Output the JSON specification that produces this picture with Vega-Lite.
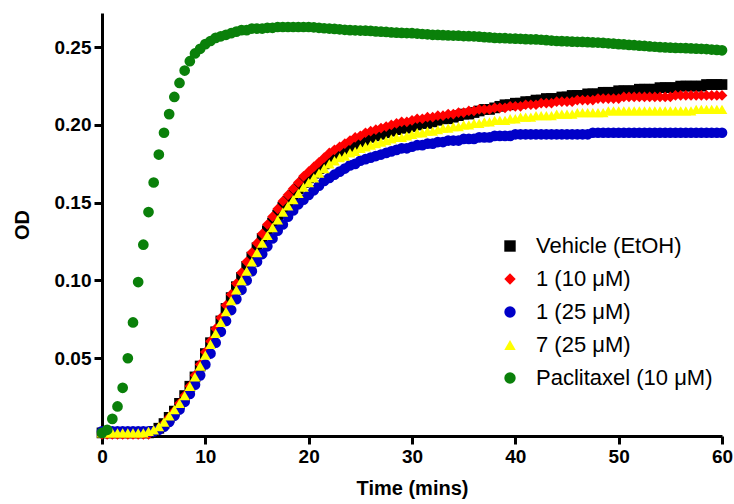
{
"$schema":"https://vega.github.io/schema/vega-lite/v6.json",
"width":620,"height":423,
"autosize":{"type":"none"},
"padding":{"left":102,"top":13,"right":12,"bottom":68},
"background":"white",
"config":{"view":{"stroke":null},
"axis":{"domainColor":"black","domainWidth":3,"tickColor":"black","tickWidth":3,"grid":false,"labelFont":"Liberation Sans","labelFontWeight":"bold","labelColor":"black","labelFontSize":19,"titleFont":"Liberation Sans","titleFontWeight":"bold","titleFontSize":20,"titleColor":"black"},
"legend":{"labelFont":"Liberation Sans","labelFontSize":22,"labelColor":"black","labelLimit":400}},
"data":{"values":[
{"t":0,"s":"V","od":0.002},{"t":0.5,"s":"V","od":0.002},{"t":1,"s":"V","od":0.002},{"t":1.5,"s":"V","od":0.002},{"t":2,"s":"V","od":0.002},{"t":2.5,"s":"V","od":0.002},{"t":3,"s":"V","od":0.002},{"t":3.5,"s":"V","od":0.002},{"t":4,"s":"V","od":0.002},{"t":4.5,"s":"V","od":0.002},
{"t":5,"s":"V","od":0.003},{"t":5.5,"s":"V","od":0.005},{"t":6,"s":"V","od":0.008},{"t":6.5,"s":"V","od":0.012},{"t":7,"s":"V","od":0.016},{"t":7.5,"s":"V","od":0.021},{"t":8,"s":"V","od":0.026},{"t":8.5,"s":"V","od":0.032},{"t":9,"s":"V","od":0.038},{"t":9.5,"s":"V","od":0.045},
{"t":10,"s":"V","od":0.053},{"t":10.5,"s":"V","od":0.060},{"t":11,"s":"V","od":0.067},{"t":11.5,"s":"V","od":0.074},{"t":12,"s":"V","od":0.082},{"t":12.5,"s":"V","od":0.089},{"t":13,"s":"V","od":0.096},{"t":13.5,"s":"V","od":0.102},{"t":14,"s":"V","od":0.109},{"t":14.5,"s":"V","od":0.115},
{"t":15,"s":"V","od":0.121},{"t":15.5,"s":"V","od":0.127},{"t":16,"s":"V","od":0.132},{"t":16.5,"s":"V","od":0.137},{"t":17,"s":"V","od":0.142},{"t":17.5,"s":"V","od":0.147},{"t":18,"s":"V","od":0.151},{"t":18.5,"s":"V","od":0.155},{"t":19,"s":"V","od":0.159},{"t":19.5,"s":"V","od":0.163},
{"t":20,"s":"V","od":0.166},{"t":20.5,"s":"V","od":0.169},{"t":21,"s":"V","od":0.172},{"t":21.5,"s":"V","od":0.175},{"t":22,"s":"V","od":0.178},{"t":22.5,"s":"V","od":0.180},{"t":23,"s":"V","od":0.182},{"t":23.5,"s":"V","od":0.184},{"t":24,"s":"V","od":0.186},{"t":24.5,"s":"V","od":0.187},
{"t":25,"s":"V","od":0.189},{"t":25.5,"s":"V","od":0.190},{"t":26,"s":"V","od":0.192},{"t":26.5,"s":"V","od":0.193},{"t":27,"s":"V","od":0.194},{"t":27.5,"s":"V","od":0.195},{"t":28,"s":"V","od":0.196},{"t":28.5,"s":"V","od":0.197},{"t":29,"s":"V","od":0.198},{"t":29.5,"s":"V","od":0.198},
{"t":30,"s":"V","od":0.199},{"t":30.5,"s":"V","od":0.200},{"t":31,"s":"V","od":0.201},{"t":31.5,"s":"V","od":0.201},{"t":32,"s":"V","od":0.202},{"t":32.5,"s":"V","od":0.203},{"t":33,"s":"V","od":0.204},{"t":33.5,"s":"V","od":0.204},{"t":34,"s":"V","od":0.205},{"t":34.5,"s":"V","od":0.206},
{"t":35,"s":"V","od":0.207},{"t":35.5,"s":"V","od":0.207},{"t":36,"s":"V","od":0.208},{"t":36.5,"s":"V","od":0.209},{"t":37,"s":"V","od":0.210},{"t":37.5,"s":"V","od":0.210},{"t":38,"s":"V","od":0.211},{"t":38.5,"s":"V","od":0.212},{"t":39,"s":"V","od":0.213},{"t":39.5,"s":"V","od":0.213},
{"t":40,"s":"V","od":0.214},{"t":40.5,"s":"V","od":0.214},{"t":41,"s":"V","od":0.215},{"t":41.5,"s":"V","od":0.215},{"t":42,"s":"V","od":0.216},{"t":42.5,"s":"V","od":0.216},{"t":43,"s":"V","od":0.217},{"t":43.5,"s":"V","od":0.217},{"t":44,"s":"V","od":0.217},{"t":44.5,"s":"V","od":0.218},
{"t":45,"s":"V","od":0.218},{"t":45.5,"s":"V","od":0.219},{"t":46,"s":"V","od":0.219},{"t":46.5,"s":"V","od":0.219},{"t":47,"s":"V","od":0.220},{"t":47.5,"s":"V","od":0.220},{"t":48,"s":"V","od":0.220},{"t":48.5,"s":"V","od":0.221},{"t":49,"s":"V","od":0.221},{"t":49.5,"s":"V","od":0.221},
{"t":50,"s":"V","od":0.222},{"t":50.5,"s":"V","od":0.222},{"t":51,"s":"V","od":0.222},{"t":51.5,"s":"V","od":0.222},{"t":52,"s":"V","od":0.223},{"t":52.5,"s":"V","od":0.223},{"t":53,"s":"V","od":0.223},{"t":53.5,"s":"V","od":0.223},{"t":54,"s":"V","od":0.224},{"t":54.5,"s":"V","od":0.224},
{"t":55,"s":"V","od":0.224},{"t":55.5,"s":"V","od":0.224},{"t":56,"s":"V","od":0.225},{"t":56.5,"s":"V","od":0.225},{"t":57,"s":"V","od":0.225},{"t":57.5,"s":"V","od":0.225},{"t":58,"s":"V","od":0.225},{"t":58.5,"s":"V","od":0.226},{"t":59,"s":"V","od":0.226},{"t":59.5,"s":"V","od":0.226},{"t":60,"s":"V","od":0.226},
{"t":0,"s":"R","od":0.001},{"t":0.5,"s":"R","od":0.001},{"t":1,"s":"R","od":0.001},{"t":1.5,"s":"R","od":0.001},{"t":2,"s":"R","od":0.001},{"t":2.5,"s":"R","od":0.001},{"t":3,"s":"R","od":0.001},{"t":3.5,"s":"R","od":0.001},{"t":4,"s":"R","od":0.001},{"t":4.5,"s":"R","od":0.001},
{"t":5,"s":"R","od":0.003},{"t":5.5,"s":"R","od":0.005},{"t":6,"s":"R","od":0.008},{"t":6.5,"s":"R","od":0.012},{"t":7,"s":"R","od":0.016},{"t":7.5,"s":"R","od":0.021},{"t":8,"s":"R","od":0.026},{"t":8.5,"s":"R","od":0.032},{"t":9,"s":"R","od":0.039},{"t":9.5,"s":"R","od":0.046},
{"t":10,"s":"R","od":0.054},{"t":10.5,"s":"R","od":0.061},{"t":11,"s":"R","od":0.069},{"t":11.5,"s":"R","od":0.076},{"t":12,"s":"R","od":0.084},{"t":12.5,"s":"R","od":0.091},{"t":13,"s":"R","od":0.098},{"t":13.5,"s":"R","od":0.105},{"t":14,"s":"R","od":0.112},{"t":14.5,"s":"R","od":0.118},
{"t":15,"s":"R","od":0.124},{"t":15.5,"s":"R","od":0.130},{"t":16,"s":"R","od":0.136},{"t":16.5,"s":"R","od":0.141},{"t":17,"s":"R","od":0.146},{"t":17.5,"s":"R","od":0.151},{"t":18,"s":"R","od":0.155},{"t":18.5,"s":"R","od":0.159},{"t":19,"s":"R","od":0.163},{"t":19.5,"s":"R","od":0.167},
{"t":20,"s":"R","od":0.170},{"t":20.5,"s":"R","od":0.173},{"t":21,"s":"R","od":0.176},{"t":21.5,"s":"R","od":0.179},{"t":22,"s":"R","od":0.182},{"t":22.5,"s":"R","od":0.184},{"t":23,"s":"R","od":0.186},{"t":23.5,"s":"R","od":0.188},{"t":24,"s":"R","od":0.190},{"t":24.5,"s":"R","od":0.192},
{"t":25,"s":"R","od":0.193},{"t":25.5,"s":"R","od":0.195},{"t":26,"s":"R","od":0.196},{"t":26.5,"s":"R","od":0.197},{"t":27,"s":"R","od":0.198},{"t":27.5,"s":"R","od":0.199},{"t":28,"s":"R","od":0.200},{"t":28.5,"s":"R","od":0.201},{"t":29,"s":"R","od":0.202},{"t":29.5,"s":"R","od":0.202},
{"t":30,"s":"R","od":0.203},{"t":30.5,"s":"R","od":0.204},{"t":31,"s":"R","od":0.204},{"t":31.5,"s":"R","od":0.205},{"t":32,"s":"R","od":0.205},{"t":32.5,"s":"R","od":0.206},{"t":33,"s":"R","od":0.206},{"t":33.5,"s":"R","od":0.207},{"t":34,"s":"R","od":0.207},{"t":34.5,"s":"R","od":0.208},
{"t":35,"s":"R","od":0.208},{"t":35.5,"s":"R","od":0.209},{"t":36,"s":"R","od":0.209},{"t":36.5,"s":"R","od":0.210},{"t":37,"s":"R","od":0.210},{"t":37.5,"s":"R","od":0.210},{"t":38,"s":"R","od":0.211},{"t":38.5,"s":"R","od":0.211},{"t":39,"s":"R","od":0.211},{"t":39.5,"s":"R","od":0.212},
{"t":40,"s":"R","od":0.212},{"t":40.5,"s":"R","od":0.212},{"t":41,"s":"R","od":0.213},{"t":41.5,"s":"R","od":0.213},{"t":42,"s":"R","od":0.213},{"t":42.5,"s":"R","od":0.214},{"t":43,"s":"R","od":0.214},{"t":43.5,"s":"R","od":0.214},{"t":44,"s":"R","od":0.215},{"t":44.5,"s":"R","od":0.215},
{"t":45,"s":"R","od":0.215},{"t":45.5,"s":"R","od":0.215},{"t":46,"s":"R","od":0.216},{"t":46.5,"s":"R","od":0.216},{"t":47,"s":"R","od":0.216},{"t":47.5,"s":"R","od":0.216},{"t":48,"s":"R","od":0.217},{"t":48.5,"s":"R","od":0.217},{"t":49,"s":"R","od":0.217},{"t":49.5,"s":"R","od":0.217},
{"t":50,"s":"R","od":0.217},{"t":50.5,"s":"R","od":0.218},{"t":51,"s":"R","od":0.218},{"t":51.5,"s":"R","od":0.218},{"t":52,"s":"R","od":0.218},{"t":52.5,"s":"R","od":0.218},{"t":53,"s":"R","od":0.218},{"t":53.5,"s":"R","od":0.218},{"t":54,"s":"R","od":0.218},{"t":54.5,"s":"R","od":0.218},
{"t":55,"s":"R","od":0.218},{"t":55.5,"s":"R","od":0.219},{"t":56,"s":"R","od":0.219},{"t":56.5,"s":"R","od":0.219},{"t":57,"s":"R","od":0.219},{"t":57.5,"s":"R","od":0.219},{"t":58,"s":"R","od":0.219},{"t":58.5,"s":"R","od":0.219},{"t":59,"s":"R","od":0.219},{"t":59.5,"s":"R","od":0.219},{"t":60,"s":"R","od":0.219},
{"t":0,"s":"B","od":0.003},{"t":0.5,"s":"B","od":0.003},{"t":1,"s":"B","od":0.003},{"t":1.5,"s":"B","od":0.003},{"t":2,"s":"B","od":0.003},{"t":2.5,"s":"B","od":0.003},{"t":3,"s":"B","od":0.003},{"t":3.5,"s":"B","od":0.003},{"t":4,"s":"B","od":0.003},{"t":4.5,"s":"B","od":0.003},
{"t":5,"s":"B","od":0.003},{"t":5.5,"s":"B","od":0.004},{"t":6,"s":"B","od":0.006},{"t":6.5,"s":"B","od":0.009},{"t":7,"s":"B","od":0.013},{"t":7.5,"s":"B","od":0.017},{"t":8,"s":"B","od":0.022},{"t":8.5,"s":"B","od":0.027},{"t":9,"s":"B","od":0.033},{"t":9.5,"s":"B","od":0.039},
{"t":10,"s":"B","od":0.046},{"t":10.5,"s":"B","od":0.053},{"t":11,"s":"B","od":0.060},{"t":11.5,"s":"B","od":0.067},{"t":12,"s":"B","od":0.074},{"t":12.5,"s":"B","od":0.081},{"t":13,"s":"B","od":0.088},{"t":13.5,"s":"B","od":0.094},{"t":14,"s":"B","od":0.100},{"t":14.5,"s":"B","od":0.106},
{"t":15,"s":"B","od":0.112},{"t":15.5,"s":"B","od":0.117},{"t":16,"s":"B","od":0.122},{"t":16.5,"s":"B","od":0.127},{"t":17,"s":"B","od":0.132},{"t":17.5,"s":"B","od":0.136},{"t":18,"s":"B","od":0.141},{"t":18.5,"s":"B","od":0.145},{"t":19,"s":"B","od":0.149},{"t":19.5,"s":"B","od":0.152},
{"t":20,"s":"B","od":0.155},{"t":20.5,"s":"B","od":0.158},{"t":21,"s":"B","od":0.161},{"t":21.5,"s":"B","od":0.164},{"t":22,"s":"B","od":0.166},{"t":22.5,"s":"B","od":0.168},{"t":23,"s":"B","od":0.170},{"t":23.5,"s":"B","od":0.172},{"t":24,"s":"B","od":0.174},{"t":24.5,"s":"B","od":0.175},
{"t":25,"s":"B","od":0.177},{"t":25.5,"s":"B","od":0.178},{"t":26,"s":"B","od":0.179},{"t":26.5,"s":"B","od":0.180},{"t":27,"s":"B","od":0.181},{"t":27.5,"s":"B","od":0.182},{"t":28,"s":"B","od":0.183},{"t":28.5,"s":"B","od":0.184},{"t":29,"s":"B","od":0.185},{"t":29.5,"s":"B","od":0.185},
{"t":30,"s":"B","od":0.186},{"t":30.5,"s":"B","od":0.187},{"t":31,"s":"B","od":0.187},{"t":31.5,"s":"B","od":0.188},{"t":32,"s":"B","od":0.188},{"t":32.5,"s":"B","od":0.189},{"t":33,"s":"B","od":0.189},{"t":33.5,"s":"B","od":0.190},{"t":34,"s":"B","od":0.190},{"t":34.5,"s":"B","od":0.190},
{"t":35,"s":"B","od":0.191},{"t":35.5,"s":"B","od":0.191},{"t":36,"s":"B","od":0.191},{"t":36.5,"s":"B","od":0.192},{"t":37,"s":"B","od":0.192},{"t":37.5,"s":"B","od":0.192},{"t":38,"s":"B","od":0.193},{"t":38.5,"s":"B","od":0.193},{"t":39,"s":"B","od":0.193},{"t":39.5,"s":"B","od":0.193},
{"t":40,"s":"B","od":0.194},{"t":40.5,"s":"B","od":0.194},{"t":41,"s":"B","od":0.194},{"t":41.5,"s":"B","od":0.194},{"t":42,"s":"B","od":0.194},{"t":42.5,"s":"B","od":0.194},{"t":43,"s":"B","od":0.194},{"t":43.5,"s":"B","od":0.194},{"t":44,"s":"B","od":0.194},{"t":44.5,"s":"B","od":0.194},
{"t":45,"s":"B","od":0.194},{"t":45.5,"s":"B","od":0.194},{"t":46,"s":"B","od":0.194},{"t":46.5,"s":"B","od":0.194},{"t":47,"s":"B","od":0.194},{"t":47.5,"s":"B","od":0.195},{"t":48,"s":"B","od":0.195},{"t":48.5,"s":"B","od":0.195},{"t":49,"s":"B","od":0.195},{"t":49.5,"s":"B","od":0.195},
{"t":50,"s":"B","od":0.195},{"t":50.5,"s":"B","od":0.195},{"t":51,"s":"B","od":0.195},{"t":51.5,"s":"B","od":0.195},{"t":52,"s":"B","od":0.195},{"t":52.5,"s":"B","od":0.195},{"t":53,"s":"B","od":0.195},{"t":53.5,"s":"B","od":0.195},{"t":54,"s":"B","od":0.195},{"t":54.5,"s":"B","od":0.195},
{"t":55,"s":"B","od":0.195},{"t":55.5,"s":"B","od":0.195},{"t":56,"s":"B","od":0.195},{"t":56.5,"s":"B","od":0.195},{"t":57,"s":"B","od":0.195},{"t":57.5,"s":"B","od":0.195},{"t":58,"s":"B","od":0.195},{"t":58.5,"s":"B","od":0.195},{"t":59,"s":"B","od":0.195},{"t":59.5,"s":"B","od":0.195},{"t":60,"s":"B","od":0.195},
{"t":0,"s":"Y","od":0.002},{"t":0.5,"s":"Y","od":0.002},{"t":1,"s":"Y","od":0.002},{"t":1.5,"s":"Y","od":0.002},{"t":2,"s":"Y","od":0.002},{"t":2.5,"s":"Y","od":0.002},{"t":3,"s":"Y","od":0.002},{"t":3.5,"s":"Y","od":0.002},{"t":4,"s":"Y","od":0.002},{"t":4.5,"s":"Y","od":0.003},
{"t":5,"s":"Y","od":0.004},{"t":5.5,"s":"Y","od":0.006},{"t":6,"s":"Y","od":0.009},{"t":6.5,"s":"Y","od":0.013},{"t":7,"s":"Y","od":0.017},{"t":7.5,"s":"Y","od":0.021},{"t":8,"s":"Y","od":0.026},{"t":8.5,"s":"Y","od":0.032},{"t":9,"s":"Y","od":0.038},{"t":9.5,"s":"Y","od":0.045},
{"t":10,"s":"Y","od":0.052},{"t":10.5,"s":"Y","od":0.059},{"t":11,"s":"Y","od":0.066},{"t":11.5,"s":"Y","od":0.073},{"t":12,"s":"Y","od":0.080},{"t":12.5,"s":"Y","od":0.087},{"t":13,"s":"Y","od":0.094},{"t":13.5,"s":"Y","od":0.100},{"t":14,"s":"Y","od":0.106},{"t":14.5,"s":"Y","od":0.112},
{"t":15,"s":"Y","od":0.118},{"t":15.5,"s":"Y","od":0.124},{"t":16,"s":"Y","od":0.129},{"t":16.5,"s":"Y","od":0.134},{"t":17,"s":"Y","od":0.139},{"t":17.5,"s":"Y","od":0.144},{"t":18,"s":"Y","od":0.148},{"t":18.5,"s":"Y","od":0.152},{"t":19,"s":"Y","od":0.156},{"t":19.5,"s":"Y","od":0.160},
{"t":20,"s":"Y","od":0.163},{"t":20.5,"s":"Y","od":0.166},{"t":21,"s":"Y","od":0.169},{"t":21.5,"s":"Y","od":0.172},{"t":22,"s":"Y","od":0.175},{"t":22.5,"s":"Y","od":0.177},{"t":23,"s":"Y","od":0.179},{"t":23.5,"s":"Y","od":0.180},{"t":24,"s":"Y","od":0.182},{"t":24.5,"s":"Y","od":0.183},
{"t":25,"s":"Y","od":0.185},{"t":25.5,"s":"Y","od":0.186},{"t":26,"s":"Y","od":0.187},{"t":26.5,"s":"Y","od":0.188},{"t":27,"s":"Y","od":0.189},{"t":27.5,"s":"Y","od":0.190},{"t":28,"s":"Y","od":0.191},{"t":28.5,"s":"Y","od":0.192},{"t":29,"s":"Y","od":0.192},{"t":29.5,"s":"Y","od":0.193},
{"t":30,"s":"Y","od":0.194},{"t":30.5,"s":"Y","od":0.195},{"t":31,"s":"Y","od":0.195},{"t":31.5,"s":"Y","od":0.196},{"t":32,"s":"Y","od":0.196},{"t":32.5,"s":"Y","od":0.197},{"t":33,"s":"Y","od":0.198},{"t":33.5,"s":"Y","od":0.198},{"t":34,"s":"Y","od":0.199},{"t":34.5,"s":"Y","od":0.199},
{"t":35,"s":"Y","od":0.200},{"t":35.5,"s":"Y","od":0.200},{"t":36,"s":"Y","od":0.201},{"t":36.5,"s":"Y","od":0.201},{"t":37,"s":"Y","od":0.202},{"t":37.5,"s":"Y","od":0.202},{"t":38,"s":"Y","od":0.203},{"t":38.5,"s":"Y","od":0.203},{"t":39,"s":"Y","od":0.203},{"t":39.5,"s":"Y","od":0.204},
{"t":40,"s":"Y","od":0.204},{"t":40.5,"s":"Y","od":0.205},{"t":41,"s":"Y","od":0.205},{"t":41.5,"s":"Y","od":0.205},{"t":42,"s":"Y","od":0.206},{"t":42.5,"s":"Y","od":0.206},{"t":43,"s":"Y","od":0.206},{"t":43.5,"s":"Y","od":0.206},{"t":44,"s":"Y","od":0.207},{"t":44.5,"s":"Y","od":0.207},
{"t":45,"s":"Y","od":0.207},{"t":45.5,"s":"Y","od":0.207},{"t":46,"s":"Y","od":0.208},{"t":46.5,"s":"Y","od":0.208},{"t":47,"s":"Y","od":0.208},{"t":47.5,"s":"Y","od":0.208},{"t":48,"s":"Y","od":0.208},{"t":48.5,"s":"Y","od":0.208},{"t":49,"s":"Y","od":0.209},{"t":49.5,"s":"Y","od":0.209},
{"t":50,"s":"Y","od":0.209},{"t":50.5,"s":"Y","od":0.209},{"t":51,"s":"Y","od":0.209},{"t":51.5,"s":"Y","od":0.209},{"t":52,"s":"Y","od":0.209},{"t":52.5,"s":"Y","od":0.209},{"t":53,"s":"Y","od":0.209},{"t":53.5,"s":"Y","od":0.209},{"t":54,"s":"Y","od":0.209},{"t":54.5,"s":"Y","od":0.209},
{"t":55,"s":"Y","od":0.209},{"t":55.5,"s":"Y","od":0.209},{"t":56,"s":"Y","od":0.209},{"t":56.5,"s":"Y","od":0.209},{"t":57,"s":"Y","od":0.209},{"t":57.5,"s":"Y","od":0.210},{"t":58,"s":"Y","od":0.210},{"t":58.5,"s":"Y","od":0.210},{"t":59,"s":"Y","od":0.210},{"t":59.5,"s":"Y","od":0.210},{"t":60,"s":"Y","od":0.210},
{"t":0,"s":"G","od":0.002},{"t":0.5,"s":"G","od":0.004},{"t":1,"s":"G","od":0.011},{"t":1.5,"s":"G","od":0.019},{"t":2,"s":"G","od":0.031},{"t":2.5,"s":"G","od":0.050},{"t":3,"s":"G","od":0.073},{"t":3.5,"s":"G","od":0.099},{"t":4,"s":"G","od":0.123},{"t":4.5,"s":"G","od":0.144},
{"t":5,"s":"G","od":0.163},{"t":5.5,"s":"G","od":0.181},{"t":6,"s":"G","od":0.195},{"t":6.5,"s":"G","od":0.207},{"t":7,"s":"G","od":0.218},{"t":7.5,"s":"G","od":0.227},{"t":8,"s":"G","od":0.235},{"t":8.5,"s":"G","od":0.241},{"t":9,"s":"G","od":0.246},{"t":9.5,"s":"G","od":0.249},
{"t":10,"s":"G","od":0.252},{"t":10.5,"s":"G","od":0.254},{"t":11,"s":"G","od":0.256},{"t":11.5,"s":"G","od":0.257},{"t":12,"s":"G","od":0.258},{"t":12.5,"s":"G","od":0.259},{"t":13,"s":"G","od":0.260},{"t":13.5,"s":"G","od":0.261},{"t":14,"s":"G","od":0.261},{"t":14.5,"s":"G","od":0.262},
{"t":15,"s":"G","od":0.262},{"t":15.5,"s":"G","od":0.262},{"t":16,"s":"G","od":0.2625},{"t":16.5,"s":"G","od":0.2625},{"t":17,"s":"G","od":0.263},{"t":17.5,"s":"G","od":0.263},{"t":18,"s":"G","od":0.263},{"t":18.5,"s":"G","od":0.263},{"t":19,"s":"G","od":0.263},{"t":19.5,"s":"G","od":0.263},
{"t":20,"s":"G","od":0.263},{"t":20.5,"s":"G","od":0.2628},{"t":21,"s":"G","od":0.2625},{"t":21.5,"s":"G","od":0.2622},{"t":22,"s":"G","od":0.262},{"t":22.5,"s":"G","od":0.2618},{"t":23,"s":"G","od":0.2615},{"t":23.5,"s":"G","od":0.2612},{"t":24,"s":"G","od":0.261},{"t":24.5,"s":"G","od":0.2609},
{"t":25,"s":"G","od":0.2607},{"t":25.5,"s":"G","od":0.2606},{"t":26,"s":"G","od":0.2605},{"t":26.5,"s":"G","od":0.2602},{"t":27,"s":"G","od":0.260},{"t":27.5,"s":"G","od":0.2598},{"t":28,"s":"G","od":0.2595},{"t":28.5,"s":"G","od":0.2594},{"t":29,"s":"G","od":0.2592},{"t":29.5,"s":"G","od":0.2591},
{"t":30,"s":"G","od":0.259},{"t":30.5,"s":"G","od":0.2588},{"t":31,"s":"G","od":0.2585},{"t":31.5,"s":"G","od":0.2583},{"t":32,"s":"G","od":0.258},{"t":32.5,"s":"G","od":0.2579},{"t":33,"s":"G","od":0.2578},{"t":33.5,"s":"G","od":0.2576},{"t":34,"s":"G","od":0.2575},{"t":34.5,"s":"G","od":0.2574},
{"t":35,"s":"G","od":0.2572},{"t":35.5,"s":"G","od":0.2571},{"t":36,"s":"G","od":0.257},{"t":36.5,"s":"G","od":0.2568},{"t":37,"s":"G","od":0.2565},{"t":37.5,"s":"G","od":0.2563},{"t":38,"s":"G","od":0.256},{"t":38.5,"s":"G","od":0.2559},{"t":39,"s":"G","od":0.2558},{"t":39.5,"s":"G","od":0.2556},
{"t":40,"s":"G","od":0.2555},{"t":40.5,"s":"G","od":0.2554},{"t":41,"s":"G","od":0.2552},{"t":41.5,"s":"G","od":0.2551},{"t":42,"s":"G","od":0.255},{"t":42.5,"s":"G","od":0.2548},{"t":43,"s":"G","od":0.2545},{"t":43.5,"s":"G","od":0.2543},{"t":44,"s":"G","od":0.254},{"t":44.5,"s":"G","od":0.2539},
{"t":45,"s":"G","od":0.2538},{"t":45.5,"s":"G","od":0.2536},{"t":46,"s":"G","od":0.2535},{"t":46.5,"s":"G","od":0.2534},{"t":47,"s":"G","od":0.2532},{"t":47.5,"s":"G","od":0.2531},{"t":48,"s":"G","od":0.253},{"t":48.5,"s":"G","od":0.2528},{"t":49,"s":"G","od":0.2525},{"t":49.5,"s":"G","od":0.2523},
{"t":50,"s":"G","od":0.252},{"t":50.5,"s":"G","od":0.2518},{"t":51,"s":"G","od":0.2515},{"t":51.5,"s":"G","od":0.2513},{"t":52,"s":"G","od":0.251},{"t":52.5,"s":"G","od":0.2508},{"t":53,"s":"G","od":0.2505},{"t":53.5,"s":"G","od":0.2503},{"t":54,"s":"G","od":0.250},{"t":54.5,"s":"G","od":0.2499},
{"t":55,"s":"G","od":0.2497},{"t":55.5,"s":"G","od":0.2496},{"t":56,"s":"G","od":0.2495},{"t":56.5,"s":"G","od":0.2494},{"t":57,"s":"G","od":0.2492},{"t":57.5,"s":"G","od":0.2491},{"t":58,"s":"G","od":0.249},{"t":58.5,"s":"G","od":0.2488},{"t":59,"s":"G","od":0.2485},{"t":59.5,"s":"G","od":0.2483},{"t":60,"s":"G","od":0.248}
]},
"mark":{"type":"point","filled":true,"opacity":1,"size":115,"strokeWidth":0},
"encoding":{
"x":{"field":"t","type":"quantitative","scale":{"domain":[0,60],"nice":false,"zero":false},
"axis":{"title":"Time (mins)","values":[0,10,20,30,40,50,60],"tickSize":8,"labelPadding":3,"titlePadding":12,"labelFlush":false}},
"y":{"field":"od","type":"quantitative","scale":{"domain":[0,0.272],"nice":false},
"axis":{"title":"OD","values":[0.05,0.1,0.15,0.2,0.25],"format":".2f","tickSize":8,"labelPadding":3,"titlePadding":22,"labelFlush":false}},
"color":{"field":"s","type":"nominal","scale":{"domain":["V","R","B","Y","G"],"range":["#000000","#ff0000","#0000c8","#ffff00","#0a800a"]},
"legend":{"title":null,"orient":"none","legendX":397,"legendY":222,"padding":0,"symbolSize":130,"labelOffset":15,"rowPadding":11,"labelLimit":400,
"labelExpr":"datum.label=='V'?'Vehicle (EtOH)':datum.label=='R'?'1 (10 μM)':datum.label=='B'?'1 (25 μM)':datum.label=='Y'?'7 (25 μM)':'Paclitaxel (10 μM)'"}},
"shape":{"field":"s","type":"nominal","scale":{"domain":["V","R","B","Y","G"],"range":["square","diamond","circle","triangle-up","circle"]}}
}
}
